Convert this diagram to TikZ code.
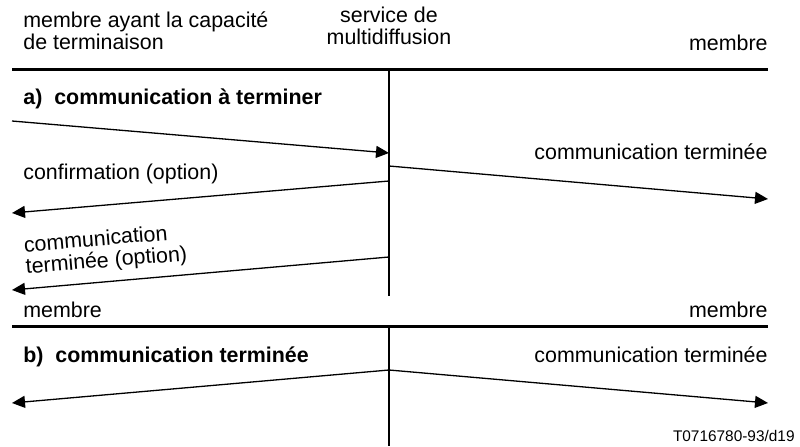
\documentclass[tikz,border=0pt]{standalone}
\usepackage{fontspec}
\setmainfont{Liberation Sans}
\usetikzlibrary{arrows.meta}
\tikzset{
    msg-arrow/.style = {-{Triangle[length=6.5pt, width=6pt]}, line width=0.65pt},
    rule-line/.style = {line width=1.5pt},
    life-line/.style = {line width=1.2pt},
    msg-label/.style = {inner sep=0pt, font=\fontsize{10.7}{11}\selectfont},
    case-title/.style = {msg-label, font=\fontsize{10.7}{11}\selectfont\bfseries},
}

\begin{document}
\begin{tikzpicture}[x=0.5pt, y=-0.5pt]
\useasboundingbox (0,0) rectangle (800,446);

\node [msg-label, anchor=base west, align=left] (term-member) at (23,49) {membre ayant la capacité\\de terminaison};
\node [msg-label, anchor=base, align=center] (mcast-service) at (389,44) {service de\\multidiffusion};
\node [msg-label, anchor=base east] (far-member) at (768,50) {membre};

\draw [rule-line] (12,69) -- (768,69);
\coordinate (svc-a-top) at (389,69);
\coordinate (svc-a-bot) at (389,296);
\draw [life-line] (svc-a-top) -- (svc-a-bot);

\node [case-title, anchor=base west] (title-a) at (23,104) {a)~~communication à terminer};

\coordinate (req-src) at (12,121);
\coordinate (req-dst) at (389,153);
\coordinate (rel-src) at (389,166);
\coordinate (rel-dst) at (768,199);
\coordinate (conf-src) at (389,181);
\coordinate (conf-dst) at (12,213);
\coordinate (done-src) at (389,257);
\coordinate (done-dst) at (12,290);
\draw [msg-arrow] (req-src) -- (req-dst);
\draw [msg-arrow] (rel-src) -- (rel-dst);
\draw [msg-arrow] (conf-src) -- (conf-dst);
\draw [msg-arrow] (done-src) -- (done-dst);

\node [msg-label, anchor=base east] (rel-label) at (768,159) {communication terminée};
\node [msg-label, anchor=base west] (conf-label) at (23,179) {confirmation (option)};
\node [msg-label, anchor=base west, align=left, rotate=4.8] (done-label) at (26,274) {communication\\terminée (option)};

\node [msg-label, anchor=base west] (near-member-b) at (23,317) {membre};
\node [msg-label, anchor=base east] (far-member-b) at (768,317) {membre};

\draw [rule-line] (12,326) -- (768,326);
\coordinate (svc-b-top) at (389,326);
\coordinate (svc-b-bot) at (389,446);
\draw [life-line] (svc-b-top) -- (svc-b-bot);

\node [case-title, anchor=base west] (title-b) at (23,362) {b)~~communication terminée};
\node [msg-label, anchor=base east] (end-label) at (768,362) {communication terminée};

\coordinate (end-src) at (389,370);
\coordinate (end-left) at (12,403);
\coordinate (end-right) at (768,403);
\draw [msg-arrow] (end-src) -- (end-left);
\draw [msg-arrow] (end-src) -- (end-right);

\node [msg-label, anchor=base east, font=\fontsize{7.7}{8}\selectfont] (fig-ref) at (795,441) {T0716780-93/d19};
\end{tikzpicture}
\end{document}
